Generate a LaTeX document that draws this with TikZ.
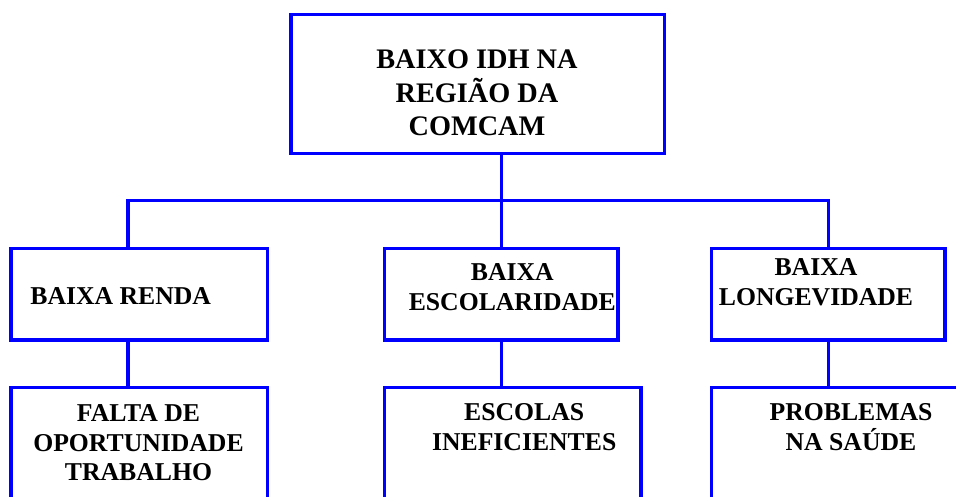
\documentclass[tikz,border=0pt]{standalone}
\usepackage{fontspec}
\setmainfont{Liberation Serif}
\begin{document}
\begin{tikzpicture}[x=1pt,y=-1pt,
  box/.style={rectangle, draw=blue, line width=3.3pt, inner sep=0pt, outer sep=0pt},
  conn/.style={draw=blue, line width=3.3pt},
  bigtxt/.style={inner sep=0pt, anchor=base, font=\bfseries\fontsize{28.3}{33.35}\selectfont},
  smalltxt/.style={inner sep=0pt, anchor=base, font=\bfseries\fontsize{25.7}{29.5}\selectfont}]
\useasboundingbox (0,0) rectangle (956,497);
\clip (0,0) rectangle (956,497);
% boxes
\node[box, minimum width=373.3pt, minimum height=139pt] (top) at (477.65,83.8) {};
\node[box, minimum width=256.7pt, minimum height=91.7pt] (renda) at (139.35,294.15) {};
\node[box, minimum width=233.7pt, minimum height=91.7pt] (esc) at (501.15,294.15) {};
\node[box, minimum width=233.3pt, minimum height=91.7pt] (longev) at (828.35,294.15) {};
\node[box, minimum width=256.7pt, minimum height=142.3pt] (falta) at (139.35,458.85) {};
\node[box, minimum width=256.7pt, minimum height=142.3pt] (escolas) at (512.65,458.85) {};
\node[box, minimum width=273.3pt, minimum height=142.3pt] (saude) at (848.35,458.85) {};
% connectors
\coordinate (bl) at (128,200.7);
\coordinate (bm) at (501.2,200.7);
\coordinate (br) at (828.2,200.7);
\draw[conn] (bm |- top.south) -- (bm |- esc.north);
\draw[conn] (bl |- renda.north) -- (bl) -- (br) -- (br |- longev.north);
\draw[conn] (bl |- renda.south) -- (bl |- falta.north);
\draw[conn] (bm |- esc.south) -- (bm |- escolas.north);
\draw[conn] (br |- longev.south) -- (br |- saude.north);
% texts
\node[bigtxt] (ttop) at (477,68.3) {\begin{tabular}[t]{@{}c@{}}BAIXO IDH NA\\REGIÃO DA\\COMCAM\end{tabular}};
\node[smalltxt] (trenda) at (120.7,304.3) {BAIXA RENDA};
\node[smalltxt] (tesc) at (512.3,280.7) {\begin{tabular}[t]{@{}c@{}}BAIXA\\ESCOLARIDADE\end{tabular}};
\node[smalltxt] (tlong) at (816,275.7) {\begin{tabular}[t]{@{}c@{}}BAIXA\\LONGEVIDADE\end{tabular}};
\node[smalltxt] (tfalta) at (138.5,421.7) {\begin{tabular}[t]{@{}c@{}}FALTA DE\\OPORTUNIDADE\\TRABALHO\end{tabular}};
\node[smalltxt] (tescolas) at (524.2,420.7) {\begin{tabular}[t]{@{}c@{}}ESCOLAS\\INEFICIENTES\end{tabular}};
\node[smalltxt] (tsaude) at (851,420) {\begin{tabular}[t]{@{}c@{}}PROBLEMAS\\NA SAÚDE\end{tabular}};
\end{tikzpicture}
\end{document}
